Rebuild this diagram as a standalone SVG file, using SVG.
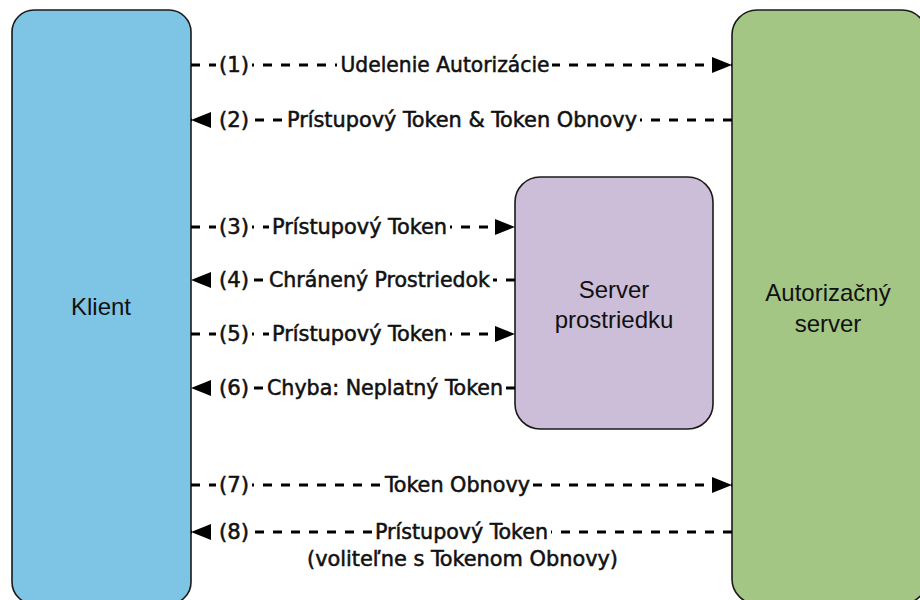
<svg xmlns="http://www.w3.org/2000/svg" width="920" height="600" viewBox="0 0 920 600">
<style>
.box{stroke:#1a1a1a;stroke-width:1.6}
.node{font-family:"Liberation Sans",Arial,sans-serif;font-size:24px;fill:#111;text-anchor:middle}
.conn{fill:none;stroke:#000;stroke-width:3;stroke-dasharray:9 9}
.bg{fill:#fff}
.lbl{font-family:"DejaVu Sans Condensed","DejaVu Sans",Verdana,sans-serif;font-size:21px;fill:#111;stroke:#111;stroke-width:0.5px;text-anchor:middle}
</style>
<defs>
<marker id="arr" viewBox="0 0 20 16" refX="20" refY="8" markerWidth="20" markerHeight="16" markerUnits="userSpaceOnUse" orient="auto">
<path d="M0,0 L20,8 L0,16 Z" fill="#000"/>
</marker>
</defs>
<rect width="920" height="600" fill="#fff"/>
<g id="klient">
<rect class="box" x="12" y="10" width="179" height="594" rx="22" fill="#7ec4e5"/>
<text class="node" x="101" y="315">Klient</text>
</g>
<g id="server-prostriedku">
<rect class="box" x="515" y="177" width="198" height="252" rx="25" fill="#ccbdd8"/>
<text class="node" x="614" y="298">Server</text>
<text class="node" x="614" y="328">prostriedku</text>
</g>
<g id="autorizacny-server">
<rect class="box" x="732" y="10" width="195" height="594" rx="25" fill="#a4c685"/>
<text class="node" x="828" y="301">Autorizačný</text>
<text class="node" x="828" y="332">server</text>
</g>
<g id="connectors">
<path class="conn" d="M191,65 H732" marker-end="url(#arr)"/>
<path class="conn" d="M732,120 H191" marker-end="url(#arr)"/>
<path class="conn" d="M191,227 H515" marker-end="url(#arr)"/>
<path class="conn" d="M515,280 H191" marker-end="url(#arr)"/>
<path class="conn" d="M191,334 H515" marker-end="url(#arr)"/>
<path class="conn" d="M515,388 H191" marker-end="url(#arr)"/>
<path class="conn" d="M191,485 H732" marker-end="url(#arr)"/>
<path class="conn" d="M732,532 H191" marker-end="url(#arr)"/>
<rect class="bg" x="216" y="55" width="36" height="20"/>
<rect class="bg" x="337" y="55" width="215" height="20"/>
<rect class="bg" x="216" y="110" width="36" height="20"/>
<rect class="bg" x="284" y="110" width="356" height="20"/>
<rect class="bg" x="216" y="217" width="36" height="20"/>
<rect class="bg" x="269" y="217" width="181" height="20"/>
<rect class="bg" x="216" y="270" width="36" height="20"/>
<rect class="bg" x="266" y="270" width="227" height="20"/>
<rect class="bg" x="216" y="324" width="36" height="20"/>
<rect class="bg" x="269" y="324" width="181" height="20"/>
<rect class="bg" x="216" y="378" width="36" height="20"/>
<rect class="bg" x="264" y="378" width="242" height="20"/>
<rect class="bg" x="216" y="475" width="36" height="20"/>
<rect class="bg" x="382" y="475" width="151" height="20"/>
<rect class="bg" x="216" y="522" width="36" height="20"/>
<rect class="bg" x="372" y="522" width="179" height="20"/>
<text class="lbl" x="234" y="72" textLength="30" lengthAdjust="spacingAndGlyphs">(1)</text>
<text class="lbl" x="445" y="72" textLength="209" lengthAdjust="spacingAndGlyphs">Udelenie Autorizácie</text>
<text class="lbl" x="234" y="127" textLength="30" lengthAdjust="spacingAndGlyphs">(2)</text>
<text class="lbl" x="462" y="127" textLength="350" lengthAdjust="spacingAndGlyphs">Prístupový Token &amp; Token Obnovy</text>
<text class="lbl" x="234" y="234" textLength="30" lengthAdjust="spacingAndGlyphs">(3)</text>
<text class="lbl" x="359.5" y="234" textLength="175" lengthAdjust="spacingAndGlyphs">Prístupový Token</text>
<text class="lbl" x="234" y="287" textLength="30" lengthAdjust="spacingAndGlyphs">(4)</text>
<text class="lbl" x="379.5" y="287" textLength="221" lengthAdjust="spacingAndGlyphs">Chránený Prostriedok</text>
<text class="lbl" x="234" y="341" textLength="30" lengthAdjust="spacingAndGlyphs">(5)</text>
<text class="lbl" x="359.5" y="341" textLength="175" lengthAdjust="spacingAndGlyphs">Prístupový Token</text>
<text class="lbl" x="234" y="395" textLength="30" lengthAdjust="spacingAndGlyphs">(6)</text>
<text class="lbl" x="385" y="395" textLength="236" lengthAdjust="spacingAndGlyphs">Chyba: Neplatný Token</text>
<text class="lbl" x="234" y="492" textLength="30" lengthAdjust="spacingAndGlyphs">(7)</text>
<text class="lbl" x="457.5" y="492" textLength="145" lengthAdjust="spacingAndGlyphs">Token Obnovy</text>
<text class="lbl" x="234" y="539" textLength="30" lengthAdjust="spacingAndGlyphs">(8)</text>
<text class="lbl" x="461.5" y="539" textLength="173" lengthAdjust="spacingAndGlyphs">Prístupový Token</text>
<text class="lbl" x="462.5" y="566" textLength="311" lengthAdjust="spacingAndGlyphs">(voliteľne s Tokenom Obnovy)</text>
</g>
</svg>
